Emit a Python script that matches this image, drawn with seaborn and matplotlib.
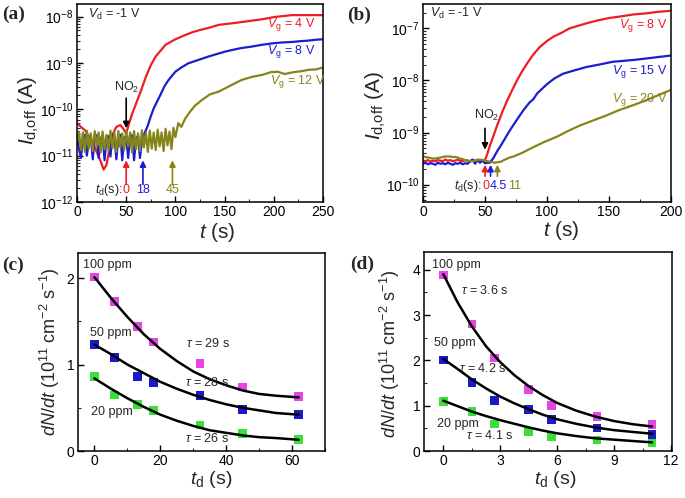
import numpy as np
import seaborn as sns
import matplotlib
matplotlib.use("Agg")
from matplotlib import pyplot as plt
from matplotlib.ticker import LogLocator, NullFormatter, MultipleLocator

'### data read from the figure ###'
# (a) I_d,off vs t, values are log10(I / A)
red_a_t = [0, 4, 8, 12, 16, 20, 24, 27, 30, 33, 36, 40, 44, 47, 50, 53, 56, 60, 65, 70, 75, 80, 90, 100,
           110, 117, 125, 133, 144, 152, 160, 174, 188, 201, 210, 218, 230, 240, 250]
red_a_log = [-10.30, -10.38, -10.45, -10.58, -10.72, -10.92, -11.12, -11.30, -11.20, -10.85, -10.55, -10.38,
             -10.34, -10.42, -10.52, -10.30, -10.10, -9.88, -9.60, -9.30, -9.05, -8.86, -8.61, -8.49,
             -8.40, -8.34, -8.29, -8.25, -8.18, -8.16, -8.14, -8.10, -8.06, -8.01, -7.99, -7.97, -7.97, -7.97, -7.97]
blue_a_t = [0, 2, 4, 6, 8, 10, 12, 14, 16, 18, 20, 22, 24, 26, 28, 30, 32, 34, 36, 38, 40, 42, 44, 46, 48,
            50, 52, 54, 56, 58, 60, 62, 64, 66, 68, 70, 72, 75, 78, 81, 85, 89, 93, 100, 106, 113, 120, 127,
            134, 142, 150, 158, 167, 177, 188, 198, 208, 218, 228, 235, 243, 250]
blue_a_log = [-10.60, -10.85, -11.05, -10.62, -10.55, -11.00, -10.70, -10.58, -11.08, -10.62, -10.56, -11.05,
              -10.65, -10.55, -11.10, -10.60, -10.58, -11.02, -10.56, -10.60, -11.08, -10.62, -10.55, -11.10,
              -10.62, -10.58, -11.05, -10.60, -10.56, -11.10, -10.62, -10.58, -11.05,
              -10.70, -10.55, -10.45, -10.35, -10.15, -9.98, -9.85, -9.68, -9.50, -9.37, -9.19, -9.10, -9.01,
              -8.96, -8.91, -8.86, -8.81, -8.76, -8.72, -8.68, -8.65, -8.61, -8.58, -8.56, -8.55, -8.53,
              -8.52, -8.50, -8.49]
olive_a_t = [0, 2, 4, 6, 8, 10, 12, 14, 16, 18, 20, 22, 24, 26, 28, 30, 32, 34, 36, 38, 40, 42, 44, 46, 48,
             50, 52, 54, 56, 58, 60, 62, 64, 66, 68, 70, 72, 74, 76, 78, 80, 82, 84, 86, 88, 90, 92, 94, 96,
             98, 100, 103, 106, 110, 115, 120, 127, 135, 144, 155, 167, 178, 188, 197, 204, 211, 220, 228,
             235, 243, 250]
olive_a_log = [-10.70, -10.48, -10.88, -10.50, -10.92, -10.46, -10.85, -10.52, -10.90, -10.47,
               -10.80, -10.50, -10.93, -10.48, -10.86, -10.55, -10.90, -10.46, -10.84, -10.50,
               -10.92, -10.47, -10.82, -10.52, -10.88, -10.46, -10.80, -10.50, -10.93, -10.47,
               -10.86, -10.52, -10.90, -10.45, -10.82, -10.50, -10.92, -10.46, -10.85, -10.50,
               -10.88, -10.44, -10.80, -10.50, -10.90, -10.42, -10.78, -10.48, -10.86, -10.40,
               -10.60, -10.30, -10.38, -10.20, -10.05, -9.92, -9.80, -9.68, -9.62, -9.50, -9.37,
               -9.30, -9.26, -9.20, -9.19, -9.24, -9.20, -9.18, -9.15, -9.14, -9.10]

# (b) I_d,off vs t, log10(I / A)
red_b_t = [0, 2, 4, 6, 8, 10, 12, 14, 16, 18, 20, 22, 24, 26, 28, 30, 32, 34, 36, 38, 40, 42, 44, 46, 48, 50,
           52, 54, 57, 60, 64, 68, 72, 76, 80, 84, 89, 94, 100, 105, 112, 118, 125, 132, 140, 150, 159,
           170, 180, 190, 200]
red_b_log = [-9.54, -9.55, -9.53, -9.56, -9.54, -9.55, -9.53, -9.54, -9.55, -9.52,
             -9.54, -9.53, -9.55, -9.54, -9.52, -9.54, -9.55, -9.53, -9.54, -9.56,
             -9.53, -9.54, -9.52, -9.55, -9.53, -9.53,
             -9.40, -9.25, -9.05, -8.85, -8.60, -8.38, -8.18, -7.99, -7.82, -7.67, -7.50, -7.36, -7.24,
             -7.16, -7.08, -7.00, -6.95, -6.90, -6.85, -6.80, -6.77, -6.73, -6.71, -6.68, -6.66]
blue_b_t = [0, 2, 4, 6, 8, 10, 12, 14, 16, 18, 20, 22, 24, 26, 28, 30, 32, 34, 36, 38, 40, 42, 44, 46, 48,
            50, 52, 54, 57, 60, 62, 66, 70, 75, 81, 86, 89, 92, 96, 100, 106, 113, 120, 132, 143, 153, 163,
            172, 186, 200]
blue_b_log = [-9.60, -9.58, -9.61, -9.59, -9.60, -9.62, -9.58, -9.60, -9.59, -9.61,
              -9.58, -9.60, -9.62, -9.59, -9.60, -9.58, -9.61, -9.59, -9.60, -9.55,
              -9.52, -9.60, -9.53, -9.58, -9.54, -9.59, -9.58, -9.58,
              -9.48, -9.35, -9.28, -9.12, -8.96, -8.78, -8.57, -8.42, -8.36, -8.25, -8.16, -8.07, -7.96,
              -7.87, -7.82, -7.74, -7.69, -7.64, -7.62, -7.60, -7.56, -7.52]
olive_b_t = [0, 2, 4, 6, 8, 10, 12, 14, 16, 18, 20, 22, 24, 26, 28, 30, 32, 34, 36, 38, 40, 42, 44, 46, 48,
             50, 52, 54, 56, 58, 60, 63, 66, 70, 73, 80, 89, 98, 108, 117, 127, 137, 148, 158, 170, 180,
             188, 195, 200]
olive_b_log = [-9.46, -9.47, -9.48, -9.49, -9.50, -9.50, -9.49, -9.48, -9.47, -9.46,
               -9.46, -9.46, -9.47, -9.47, -9.48, -9.50, -9.51, -9.53, -9.54, -9.55,
               -9.55, -9.54, -9.53, -9.52, -9.53, -9.54, -9.55, -9.56, -9.57, -9.58, -9.57,
               -9.56, -9.52, -9.48, -9.46, -9.39, -9.28, -9.18, -9.08, -8.97, -8.86, -8.77, -8.67,
               -8.57, -8.47, -8.38, -8.30, -8.23, -8.18]

# (c) dN/dt vs t_d (10^11 cm^-2 s^-1)
td_c = [0, 6, 13, 18, 32, 45, 62]
c_100 = [2.01, 1.73, 1.44, 1.26, 1.01, 0.74, 0.63]
c_50 = [1.23, 1.08, 0.86, 0.79, 0.64, 0.48, 0.42]
c_20 = [0.86, 0.65, 0.54, 0.47, 0.30, 0.20, 0.13]
fit_c_t = [0, 5, 10, 15, 20, 25, 30, 35, 40, 45, 50, 55, 62]
fit_c_100 = [2.01, 1.77, 1.55, 1.35, 1.18, 1.04, 0.92, 0.83, 0.76, 0.70, 0.66, 0.64, 0.62]
fit_c_50 = [1.23, 1.12, 1.00, 0.90, 0.80, 0.72, 0.65, 0.59, 0.54, 0.50, 0.47, 0.44, 0.42]
fit_c_20 = [0.84, 0.72, 0.61, 0.51, 0.42, 0.35, 0.29, 0.24, 0.21, 0.18, 0.16, 0.15, 0.13]

# (d)
td_d = [0, 1.5, 2.7, 4.5, 5.7, 8.1, 11]
d_100 = [3.88, 2.80, 2.05, 1.36, 1.00, 0.76, 0.58]
d_50 = [2.01, 1.51, 1.12, 0.91, 0.69, 0.51, 0.36]
d_20 = [1.09, 0.87, 0.60, 0.43, 0.32, 0.24, 0.18]
fit_d_t = [0, 0.75, 1.5, 2.25, 3, 3.75, 4.5, 5.25, 6, 7, 8, 9, 10, 11]
fit_d_100 = [3.90, 3.28, 2.75, 2.31, 1.96, 1.67, 1.43, 1.23, 1.06, 0.89, 0.76, 0.66, 0.59, 0.54]
fit_d_50 = [2.03, 1.81, 1.58, 1.38, 1.20, 1.05, 0.92, 0.80, 0.70, 0.60, 0.52, 0.46, 0.42, 0.38]
fit_d_20 = [1.11, 0.99, 0.87, 0.77, 0.68, 0.60, 0.52, 0.45, 0.39, 0.33, 0.28, 0.25, 0.22, 0.19]

RED, BLUE, OLIVE = "#ee1c25", "#1c1cd2", "#85851a"
MAG, SQBLUE, GREEN = "#e645e6", "#1a1ac8", "#38e038"

sns.set_style("ticks")
plt.rcParams["font.family"] = ["Liberation Sans", "DejaVu Sans"]
plt.rcParams["mathtext.fontset"] = "custom"
plt.rcParams["mathtext.rm"] = "Liberation Sans"
plt.rcParams["mathtext.it"] = "Liberation Sans:italic"
plt.rcParams["mathtext.bf"] = "Liberation Sans:bold"

fig = plt.figure(figsize=(6.85, 4.98), dpi=100)
W, H = 685, 498


def add_axes(left, top, right, bottom):
    return fig.add_axes([left / W, 1 - bottom / H, (right - left) / W, (bottom - top) / H])


def style(ax):
    for s in ax.spines.values():
        s.set_linewidth(1.1)
        s.set_color("black")
    ax.tick_params(which="major", direction="in", length=4, width=1, labelsize=10, colors="black", pad=2.5)
    ax.tick_params(which="minor", direction="in", length=2.2, width=0.8)


def trace(ax, t, logv, color):
    sns.lineplot(x=t, y=10.0 ** np.array(logv), ax=ax, color=color, lw=1.6,
                 estimator=None, errorbar=None, sort=False)


def arrow(ax, x, y0, y1, color):
    ax.annotate("", xy=(x, y1), xytext=(x, y0),
                arrowprops=dict(arrowstyle="-|>", color=color, lw=1.2, mutation_scale=9,
                                shrinkA=0, shrinkB=0))


YLAB_I = r"$I_{\mathrm{d{,}off}}$ (A)"
YLAB_N = r"$dN/dt$ (10$^{11}$ cm$^{-2}$ s$^{-1}$)"

# ---- (a)
ax = add_axes(77, 4, 323, 202)
trace(ax, red_a_t, red_a_log, RED)
trace(ax, blue_a_t, blue_a_log, BLUE)
trace(ax, olive_a_t, olive_a_log, OLIVE)
ax.set_yscale("log")
ax.set_xlim(0, 250)
ax.set_ylim(1e-12, 10 ** -7.73)
ax.xaxis.set_major_locator(MultipleLocator(50))
ax.xaxis.set_minor_locator(MultipleLocator(25))
ax.yaxis.set_major_locator(LogLocator(base=10, numticks=10))
ax.yaxis.set_minor_locator(LogLocator(base=10, subs=np.arange(2, 10), numticks=10))
ax.yaxis.set_minor_formatter(NullFormatter())
style(ax)
ax.set_xlabel(r"$t$ (s)", fontsize=15)
ax.xaxis.set_label_coords(0.57, -0.095)
ax.set_ylabel(YLAB_I, fontsize=15)
ax.yaxis.set_label_coords(-0.145, 0.46)
ax.text(11.5, 10 ** -7.96, r"$V_\mathrm{d}$ = -1 V", fontsize=9, va="center")
ax.text(242, 10 ** -8.18, r"$V_\mathrm{g}$ = 4 V", color=RED, fontsize=9, ha="right", va="center")
ax.text(242, 10 ** -8.76, r"$V_\mathrm{g}$ = 8 V", color=BLUE, fontsize=9, ha="right", va="center")
ax.text(253, 10 ** -9.41, r"$V_\mathrm{g}$ = 12 V", color=OLIVE, fontsize=9, ha="right", va="center")
ax.text(50, 10 ** -9.54, r"NO$_2$", fontsize=9, ha="center", va="center")
arrow(ax, 50, 10 ** -9.76, 10 ** -10.41, "black")
for x, c, lab in zip([50, 67, 97], [RED, BLUE, OLIVE], ["0", "18", "45"]):
    arrow(ax, x, 10 ** -11.62, 10 ** -11.1, c)
    ax.text(x, 10 ** -11.75, lab, color=c, fontsize=9, ha="center", va="center")
ax.text(46, 10 ** -11.75, r"$t_\mathrm{d}$(s):", fontsize=9, ha="right", va="center")

# ---- (b)
ax = add_axes(423, 4, 671, 202)
trace(ax, red_b_t, red_b_log, RED)
trace(ax, blue_b_t, blue_b_log, BLUE)
trace(ax, olive_b_t, olive_b_log, OLIVE)
ax.set_yscale("log")
ax.set_xlim(0, 200)
ax.set_ylim(10 ** -10.335, 10 ** -6.53)
ax.xaxis.set_major_locator(MultipleLocator(50))
ax.xaxis.set_minor_locator(MultipleLocator(25))
ax.yaxis.set_major_locator(LogLocator(base=10, numticks=10))
ax.yaxis.set_minor_locator(LogLocator(base=10, subs=np.arange(2, 10), numticks=10))
ax.yaxis.set_minor_formatter(NullFormatter())
style(ax)
ax.set_xlabel(r"$t$ (s)", fontsize=15)
ax.xaxis.set_label_coords(0.556, -0.085)
ax.set_ylabel(YLAB_I, fontsize=15)
ax.yaxis.set_label_coords(-0.14, 0.49)
ax.text(5.6, 10 ** -6.71, r"$V_\mathrm{d}$ = -1 V", fontsize=9, va="center")
ax.text(197, 10 ** -6.94, r"$V_\mathrm{g}$ = 8 V", color=RED, fontsize=9, ha="right", va="center")
ax.text(197, 10 ** -7.83, r"$V_\mathrm{g}$ = 15 V", color=BLUE, fontsize=9, ha="right", va="center")
ax.text(197, 10 ** -8.36, r"$V_\mathrm{g}$ = 20 V", color=OLIVE, fontsize=9, ha="right", va="center")
ax.text(51.4, 10 ** -8.67, r"NO$_2$", fontsize=9, ha="center", va="center")
arrow(ax, 50, 10 ** -8.92, 10 ** -9.33, "black")
for x, xl, c, lab in zip([50, 54.5, 60], [50.6, 61.0, 73.8], [RED, BLUE, OLIVE], ["0", "4.5", "11"]):
    arrow(ax, x, 10 ** -9.84, 10 ** -9.62, c)
    ax.text(xl, 10 ** -10.02, lab, color=c, fontsize=9, ha="center", va="center")
ax.text(47.5, 10 ** -10.02, r"$t_\mathrm{d}$(s):", fontsize=9, ha="right", va="center")


def decay_panel(ax, td, pts, fit_t, fits):
    for y, c in zip(pts, [MAG, SQBLUE, GREEN]):
        sns.scatterplot(x=td, y=y, ax=ax, marker="s", s=38, color=c, edgecolor="none", zorder=2)
    for f in fits:
        sns.lineplot(x=fit_t, y=f, ax=ax, color="black", lw=1.8, estimator=None, errorbar=None, zorder=3)


# ---- (c)
ax = add_axes(78, 253, 325, 451)
decay_panel(ax, td_c, [c_100, c_50, c_20], fit_c_t, [fit_c_100, fit_c_50, fit_c_20])
ax.set_xlim(-5, 70)
ax.set_ylim(0, 2.29)
ax.xaxis.set_major_locator(MultipleLocator(20))
ax.xaxis.set_minor_locator(MultipleLocator(10))
ax.yaxis.set_major_locator(MultipleLocator(1))
ax.yaxis.set_minor_locator(MultipleLocator(0.5))
style(ax)
ax.set_xlabel(r"$t_\mathrm{d}$ (s)", fontsize=14)
ax.xaxis.set_label_coords(0.54, -0.09)
ax.set_ylabel(YLAB_N, fontsize=13)
ax.yaxis.set_label_coords(-0.065, 0.5)
ax.text(-3.5, 2.15, "100 ppm", fontsize=9, va="center")
ax.text(-1.5, 1.37, "50 ppm", fontsize=9, va="center")
ax.text(-1.2, 0.45, "20 ppm", fontsize=9, va="center")
ax.text(27.7, 1.24, r"$\tau$ = 29 s", fontsize=9, va="center")
ax.text(27.4, 0.79, r"$\tau$ = 28 s", fontsize=9, va="center")
ax.text(27.4, 0.15, r"$\tau$ = 26 s", fontsize=9, va="center")

# ---- (d)
ax = add_axes(424, 252, 672, 451)
decay_panel(ax, td_d, [d_100, d_50, d_20], fit_d_t, [fit_d_100, fit_d_50, fit_d_20])
ax.set_xlim(-1.02, 12.05)
ax.set_ylim(0, 4.39)
ax.xaxis.set_major_locator(MultipleLocator(3))
ax.xaxis.set_minor_locator(MultipleLocator(1.5))
ax.yaxis.set_major_locator(MultipleLocator(1))
ax.yaxis.set_minor_locator(MultipleLocator(0.5))
style(ax)
ax.set_xlabel(r"$t_\mathrm{d}$ (s)", fontsize=14)
ax.xaxis.set_label_coords(0.53, -0.09)
ax.set_ylabel(YLAB_N, fontsize=13)
ax.yaxis.set_label_coords(-0.09, 0.49)
ax.text(-0.6, 4.1, "100 ppm", fontsize=9, va="center")
ax.text(-0.49, 2.38, "50 ppm", fontsize=9, va="center")
ax.text(-0.33, 0.6, "20 ppm", fontsize=9, va="center")
ax.text(0.94, 3.53, r"$\tau$ = 3.6 s", fontsize=9, va="center")
ax.text(0.83, 1.81, r"$\tau$ = 4.2 s", fontsize=9, va="center")
ax.text(1.2, 0.35, r"$\tau$ = 4.1 s", fontsize=9, va="center")

# panel letters
for lab, x, y in [("(a)", 2, 14), ("(b)", 347, 15), ("(c)", 2, 265), ("(d)", 350, 264)]:
    fig.text(x / W, 1 - y / H, lab, fontsize=14, fontweight="bold",
             family=["Liberation Serif", "DejaVu Serif"], va="center")

fig.savefig("out.png", dpi=100)
